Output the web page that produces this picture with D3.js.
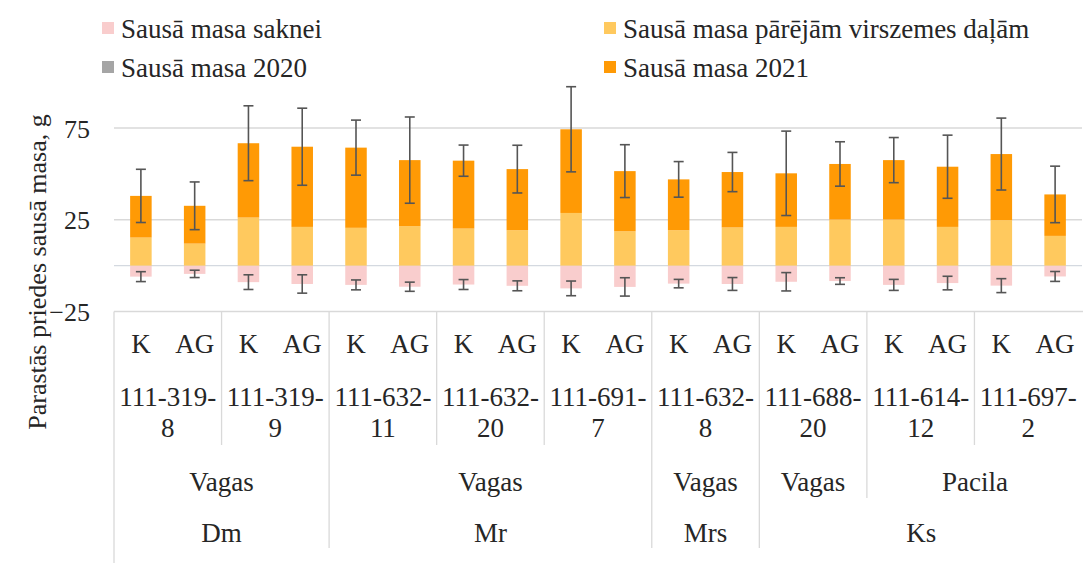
<!DOCTYPE html>
<html><head><meta charset="utf-8">
<script src="https://cdn.jsdelivr.net/npm/d3@7"></script>
<style>
html,body{margin:0;padding:0;background:#fff;}
svg text{font-family:"Liberation Serif","Times New Roman",Times,"DejaVu Serif","Noto Serif",serif !important;fill:#262626;}
</style></head>
<body><svg id="c" width="1083" height="563"></svg>
<script>
// ---- data ----
const treatments = ["K","AG"];
const clones = ["111-319-8","111-319-9","111-632-11","111-632-20","111-691-7","111-632-8","111-688-20","111-614-12","111-697-2"];
const sites = ["Vagas","Vagas","Vagas","Vagas","Vagas","Vagas","Vagas","Pacila","Pacila"];
const species = ["Dm","Dm","Mr","Mr","Mr","Mrs","Ks","Ks","Ks"];
const seriesNames = ["Sausā masa saknei","Sausā masa pārējām virszemes daļām","Sausā masa 2020","Sausā masa 2021"];
const rootMass = [-6,-4.5,-9,-10,-10.5,-11.5,-10.3,-11,-12.4,-11.6,-9.8,-10,-8.8,-8.4,-10.5,-9.5,-10.9,-5.9];
const otherAbove = [15.3,12,26.2,21.1,20.6,21.5,20.2,19.3,28.7,18.7,19.3,20.8,21.1,25.1,25.1,21.1,24.8,16.2];
const mass2020 = [0,0,0,0,0,0,0,0,0,0,0,0,0,0,0,0,0,0];
const mass2021 = [22.7,20.6,40.5,43.7,43.7,36,37,33.3,45.6,32.8,27.7,30.2,29.2,30.3,32.4,32.8,36,22.6];
const errTotal = [14.5,13,20.4,21,15,23.5,8.5,13,23.2,14.4,9.7,10.7,23,12.1,12.3,17.2,19.6,15.4];
const errRoot = [2.7,2,4,5,2.7,2.5,2.7,2.7,4,5,2.3,3.5,5,1.8,3,3.7,3.8,2.7];
const yTicks = [-25,25,75];
const colors = ["#f9cdcd","#ffc95e","#a5a5a5","#ff9a05"];

// ---- build ----
const FONT = '"Liberation Serif","Times New Roman",Times,"DejaVu Serif","Noto Serif",serif';
const svg = d3.select("#c").style("font-family", FONT);
const L = 114, R = 1082, T = 128, B = 311.5;
const n = rootMass.length;
const rows = d3.range(n).map(i => ({i, root: rootMass[i], other: otherAbove[i], m20: mass2020[i], m21: mass2021[i]}));
const keys = ["root","other","m20","m21"];
const x = d3.scaleBand().domain(d3.range(n)).range([L,R]).paddingInner(0.6).paddingOuter(0.3);
const y = d3.scaleLinear().domain([-25,75]).range([B,T]);
const step = x.step();

const grid = "#d9d9d9";
// gridlines
svg.append("g").selectAll("line").data([25,75,0]).join("line")
  .attr("x1",L).attr("x2",R).attr("y1",d=>y(d)).attr("y2",d=>y(d))
  .attr("stroke",d=>d===0?"#d4d9e0":grid).attr("stroke-width",1.3);

// y axis labels
const yAxis = d3.axisLeft(y).tickValues(yTicks).tickSize(0).tickPadding(0);
const ya = svg.append("g").attr("transform",`translate(90,0)`).call(yAxis);
ya.attr("font-family", FONT);
ya.select(".domain").remove();
ya.selectAll("text").style("font-size","26px").attr("fill","#262626").attr("dy","0.35em");

// y title
svg.append("text").attr("transform",`translate(46,272) rotate(-90)`).attr("text-anchor","middle")
  .style("font-size","26px").text("Parastās priedes sausā masa, g");

// stacked bars
const stack = d3.stack().keys(keys).offset(d3.stackOffsetDiverging)(rows);
svg.append("g").selectAll("g").data(stack).join("g").attr("fill",(d,k)=>colors[k])
  .selectAll("rect").data(d=>d).join("rect")
  .attr("x",d=>x(d.data.i)).attr("width",x.bandwidth())
  .attr("y",d=>y(Math.max(d[0],d[1]))).attr("height",d=>Math.abs(y(d[0])-y(d[1])));

// error bars
const errG = svg.append("g").attr("stroke","#555").attr("stroke-width",1.6);
function errBar(i, v, e){
  const cx = x(i)+x.bandwidth()/2, cw = 5;
  errG.append("line").attr("x1",cx).attr("x2",cx).attr("y1",y(v+e)).attr("y2",y(v-e));
  errG.append("line").attr("x1",cx-cw).attr("x2",cx+cw).attr("y1",y(v+e)).attr("y2",y(v+e));
  errG.append("line").attr("x1",cx-cw).attr("x2",cx+cw).attr("y1",y(v-e)).attr("y2",y(v-e));
}
rows.forEach(r => {
  errBar(r.i, r.other + r.m20 + r.m21, errTotal[r.i]);
  errBar(r.i, r.root, errRoot[r.i]);
});

// category axis (multi-level)
const cat = svg.append("g");
const lineC = "#d9d9d9";
cat.append("line").attr("x1",L).attr("x2",1083).attr("y1",B).attr("y2",B).attr("stroke",lineC).attr("stroke-width",1.3);
cat.append("line").attr("x1",L).attr("x2",L).attr("y1",B).attr("y2",563).attr("stroke",lineC).attr("stroke-width",1.3);
const fs = "27px";
// level 0
rows.forEach(r => {
  cat.append("text").attr("x",x(r.i)+x.bandwidth()/2).attr("y",353).attr("text-anchor","middle")
    .style("font-size",fs).text(treatments[r.i%2]);
});
// level 1 clones
const gx = g => x(2*g) - step*0.3; // group left edge
clones.forEach((c,g) => {
  const cx = gx(g) + step;
  const k = c.lastIndexOf("-");
  const t = cat.append("text").attr("text-anchor","middle").style("font-size",fs);
  t.append("tspan").attr("x",cx).attr("y",406).text(c.slice(0,k+1));
  t.append("tspan").attr("x",cx).attr("y",437).text(c.slice(k+1));
});
function spans(keyFn){
  const out=[]; let s=0;
  for(let g=1; g<=clones.length; g++){
    if(g===clones.length || keyFn(g)!==keyFn(s)){ out.push({s, e:g}); s=g; }
  }
  return out;
}
const siteSpans = spans(g => species[g]+"|"+sites[g]);
const spSpans = spans(g => species[g]);
const edge = g => g>=clones.length ? 1083 : gx(g);
siteSpans.forEach(sp => {
  cat.append("text").attr("x",(edge(sp.s)+edge(sp.e))/2).attr("y",491).attr("text-anchor","middle")
    .style("font-size",fs).text(sites[sp.s]);
});
spSpans.forEach(sp => {
  cat.append("text").attr("x",(edge(sp.s)+edge(sp.e))/2).attr("y",542).attr("text-anchor","middle")
    .style("font-size",fs).text(species[sp.s]);
});
const spStarts = new Set(spSpans.map(d=>d.s));
const siteStarts = new Set(siteSpans.map(d=>d.s));
for(let g=1; g<clones.length; g++){
  const yEnd = spStarts.has(g) ? 548 : (siteStarts.has(g) ? 498 : 445);
  cat.append("line").attr("x1",gx(g)).attr("x2",gx(g)).attr("y1",B).attr("y2",yEnd)
    .attr("stroke",lineC).attr("stroke-width",1.3);
}

// legend
const leg = svg.append("g");
const legPos = [[102,29],[604,29],[102,68],[604,68]];
seriesNames.forEach((s,k) => {
  const [lx,ly] = legPos[k];
  leg.append("rect").attr("x",lx).attr("y",ly-7).attr("width",12).attr("height",12).attr("fill",colors[k]);
  leg.append("text").attr("x",lx+19).attr("y",ly+9).style("font-size","27px").text(s);
});
</script></body></html>
